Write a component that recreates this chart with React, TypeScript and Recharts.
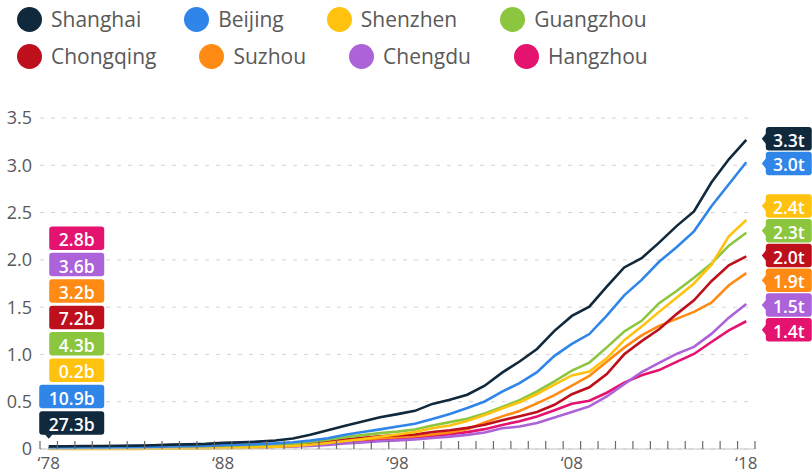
import React from 'react';
import { LineChart, Line, XAxis, YAxis, CartesianGrid, ReferenceDot } from 'recharts';

// GDP of China's largest city economies, trillion yuan, 1978–2018
const years = [
  1978, 1979, 1980, 1981, 1982, 1983, 1984, 1985, 1986, 1987,
  1988, 1989, 1990, 1991, 1992, 1993, 1994, 1995, 1996, 1997,
  1998, 1999, 2000, 2001, 2002, 2003, 2004, 2005, 2006, 2007,
  2008, 2009, 2010, 2011, 2012, 2013, 2014, 2015, 2016, 2017, 2018,
];

const shanghai = [
  0.0273, 0.0286, 0.0312, 0.0325, 0.0337, 0.0352, 0.0391, 0.0467, 0.0491, 0.0545,
  0.0648, 0.0697, 0.0782, 0.0894, 0.1114, 0.1512, 0.1972, 0.2463, 0.2902, 0.3361,
  0.3688, 0.4035, 0.4771, 0.521, 0.5741, 0.6694, 0.8073, 0.9248, 1.0572, 1.2494,
  1.4069, 1.5046, 1.7166, 1.9196, 2.0182, 2.1818, 2.3568, 2.5123, 2.8179, 3.0633, 3.268,
];
const beijing = [
  0.0109, 0.012, 0.0139, 0.0139, 0.0155, 0.0183, 0.0216, 0.0257, 0.0285, 0.0326,
  0.041, 0.0456, 0.0501, 0.0599, 0.0709, 0.0886, 0.1145, 0.1508, 0.1789, 0.2076,
  0.2376, 0.2678, 0.3162, 0.3708, 0.433, 0.5024, 0.606, 0.697, 0.8118, 0.9847,
  1.1115, 1.2153, 1.4114, 1.6252, 1.7879, 1.9801, 2.1331, 2.3015, 2.5669, 2.8, 3.032,
];
const shenzhen = [
  0.0002, 0.0003, 0.0003, 0.0005, 0.0008, 0.0013, 0.0023, 0.0039, 0.0042, 0.0056,
  0.0087, 0.0116, 0.0172, 0.0237, 0.0317, 0.0454, 0.0635, 0.0842, 0.1048, 0.1297,
  0.1535, 0.1804, 0.2187, 0.2483, 0.297, 0.3586, 0.4282, 0.4951, 0.5814, 0.6802,
  0.7787, 0.8201, 0.9582, 1.1506, 1.295, 1.45, 1.6002, 1.7503, 1.9493, 2.249, 2.4222,
];
const guangzhou = [
  0.0043, 0.0049, 0.0057, 0.0062, 0.0071, 0.008, 0.0103, 0.0124, 0.0139, 0.0173,
  0.0241, 0.0287, 0.032, 0.0387, 0.051, 0.0745, 0.0985, 0.1259, 0.1468, 0.1679,
  0.1841, 0.2056, 0.2492, 0.2841, 0.3203, 0.3758, 0.445, 0.5154, 0.6081, 0.7141,
  0.8287, 0.9138, 1.0748, 1.2423, 1.3551, 1.542, 1.6707, 1.81, 1.9611, 2.1503, 2.2859,
];
const chongqing = [
  0.0072, 0.0081, 0.0089, 0.0095, 0.0106, 0.0116, 0.0134, 0.0156, 0.0175, 0.0198,
  0.0241, 0.0273, 0.0328, 0.0372, 0.0459, 0.06, 0.08, 0.1003, 0.1179, 0.135,
  0.1441, 0.154, 0.1791, 0.1977, 0.2233, 0.2556, 0.3034, 0.3468, 0.3907, 0.4676,
  0.5794, 0.6528, 0.7926, 1.0011, 1.141, 1.2657, 1.4263, 1.5717, 1.7741, 1.9425, 2.0363,
];
const suzhou = [
  0.0032, 0.0038, 0.0043, 0.0047, 0.0052, 0.0058, 0.0072, 0.0094, 0.0111, 0.0137,
  0.0176, 0.0192, 0.0202, 0.0239, 0.0359, 0.0524, 0.07, 0.0903, 0.1002, 0.1133,
  0.125, 0.1358, 0.1541, 0.176, 0.208, 0.2801, 0.345, 0.4027, 0.482, 0.5701,
  0.6701, 0.774, 0.9229, 1.0717, 1.2012, 1.3016, 1.3761, 1.4504, 1.5475, 1.7319, 1.8597,
];
const chengdu = [
  0.0036, 0.0041, 0.0046, 0.0051, 0.0056, 0.0063, 0.0073, 0.0089, 0.0099, 0.0114,
  0.014, 0.0155, 0.0179, 0.0204, 0.0263, 0.0316, 0.0431, 0.0588, 0.07, 0.0813,
  0.0915, 0.1013, 0.1156, 0.1312, 0.1493, 0.175, 0.2186, 0.2371, 0.275, 0.3324,
  0.3901, 0.4503, 0.5551, 0.6855, 0.8139, 0.9109, 1.0057, 1.0801, 1.217, 1.3889, 1.5343,
];
const hangzhou = [
  0.0028, 0.0033, 0.0041, 0.0046, 0.0051, 0.0056, 0.0069, 0.0091, 0.0104, 0.0125,
  0.0157, 0.0179, 0.0189, 0.0232, 0.03, 0.0425, 0.0609, 0.0762, 0.0907, 0.1036,
  0.1134, 0.1226, 0.1383, 0.1575, 0.1782, 0.2099, 0.2543, 0.2943, 0.3443, 0.41,
  0.4781, 0.5098, 0.5949, 0.702, 0.7804, 0.8343, 0.9206, 1.005, 1.1314, 1.2536, 1.351,
];

const cities = ['Shanghai', 'Beijing', 'Shenzhen', 'Guangzhou', 'Chongqing', 'Suzhou', 'Chengdu', 'Hangzhou'];
const cityValues = [shanghai, beijing, shenzhen, guangzhou, chongqing, suzhou, chengdu, hangzhou];
const cityColors = ['#10293d', '#2f86e8', '#ffc20e', '#8cc63f', '#bd0f1c', '#ff8a14', '#ac62d9', '#e3136f'];

const yTicks = [0, 0.5, 1, 1.5, 2, 2.5, 3, 3.5];
const labelYears = [1978, 1988, 1998, 2008, 2018];

const FONT = '"Open Sans", "Noto Sans", sans-serif';
const TEXT_GREY = '#595959';

// one row per year: { year, Shanghai, Beijing, ... }
const data = years.map((year, i) => {
  const row: Record<string, number> = { year };
  cities.forEach((city, k) => {
    row[city] = cityValues[k][i];
  });
  return row;
});

// year-boundary tick marks plus the labelled years
const boundaryTicks = [...years.map((y) => y - 0.5), years[years.length - 1] + 0.5];
const xTicks = [...boundaryTicks, ...labelYears].sort((a, b) => a - b);

// Spread end-of-line tags so they keep a minimum distance (in axis units)
function spreadLabels(values: number[], gap: number): number[] {
  const order = values.map((_, i) => i).sort((a, b) => values[b] - values[a]);
  let clusters = order.map((i) => ({ idx: [i], center: values[i] }));
  let merged = true;
  while (merged) {
    merged = false;
    for (let k = 0; k < clusters.length - 1; k++) {
      const a = clusters[k];
      const b = clusters[k + 1];
      const aBottom = a.center - ((a.idx.length - 1) * gap) / 2;
      const bTop = b.center + ((b.idx.length - 1) * gap) / 2;
      if (aBottom - bTop < gap) {
        const idx = [...a.idx, ...b.idx];
        const center = idx.reduce((s, i) => s + values[i], 0) / idx.length;
        clusters.splice(k, 2, { idx, center });
        merged = true;
        break;
      }
    }
  }
  const out: number[] = new Array(values.length);
  clusters.forEach((c) =>
    c.idx.forEach((i, j) => {
      out[i] = c.center + ((c.idx.length - 1) / 2 - j) * gap;
    })
  );
  return out;
}

const endValues = cityValues.map((v) => v[v.length - 1]);
const startValues = cityValues.map((v) => v[0]);
const endTagPositions = spreadLabels(endValues, 0.262);

const XTick = (props: any) => {
  const { x, y, payload } = props;
  const v = payload.value as number;
  if (labelYears.includes(v)) {
    return (
      <text x={x} y={y + 19.5} textAnchor="middle" fill={TEXT_GREY} fontSize={17} fontFamily={FONT}>
        {'\u2018' + String(v).slice(2)}
      </text>
    );
  }
  return <line x1={x} x2={x} y1={y - 8} y2={y} stroke="#6a6a6a" strokeWidth={1.2} />;
};

// Tags stacked at the start of the lines, Shanghai at the bottom
const StartTag = ({ cx, cy, slot, color, text, pointer }: any) => {
  const h = 23.5;
  const w = 10 * text.length + 15;
  const right = cx + 55.5;
  const mid = cy - 26 - slot * 26.4;
  const top = mid - h / 2;
  return (
    <g>
      <rect x={right - w} y={top} width={w} height={h} rx={3} ry={3} fill={color} />
      {pointer && (
        <path d={`M ${cx - 4} ${top + h - 0.5} L ${cx} ${top + h + 4} L ${cx + 4} ${top + h - 0.5} Z`} fill={color} />
      )}
      <text
        x={right - w / 2}
        y={mid + 1}
        textAnchor="middle"
        dominantBaseline="central"
        fill="#ffffff"
        fontSize={17.5}
        fontWeight={600}
        fontFamily={FONT}
      >
        {text}
      </text>
    </g>
  );
};

// Tags at the end of the lines, pointing left
const EndTag = ({ cx, cy, color, text }: any) => {
  const h = 23.5;
  const left = cx + 19.5;
  const w = 46;
  return (
    <g>
      <rect x={left} y={cy - h / 2} width={w} height={h} rx={3} ry={3} fill={color} />
      <path d={`M ${left + 0.5} ${cy - 5.5} L ${left - 4} ${cy} L ${left + 0.5} ${cy + 5.5} Z`} fill={color} />
      <text
        x={left + w / 2}
        y={cy + 1}
        textAnchor="middle"
        dominantBaseline="central"
        fill="#ffffff"
        fontSize={17.5}
        fontWeight={600}
        fontFamily={FONT}
      >
        {text}
      </text>
    </g>
  );
};

const legendRows = [cities.slice(0, 4), cities.slice(4)];

const LegendBlock = () => (
  <div style={{ position: 'absolute', left: 17, top: 0, fontFamily: FONT }}>
    {legendRows.map((row, r) => (
      <div
        key={r}
        style={{
          position: 'absolute',
          top: r === 0 ? 6.5 : 44,
          left: 0,
          display: 'flex',
          alignItems: 'center',
          whiteSpace: 'nowrap',
          height: 25,
        }}
      >
        {row.map((city) => {
          const color = cityColors[cities.indexOf(city)];
          return (
            <div key={city} style={{ display: 'flex', alignItems: 'center', marginRight: 43 }}>
              <span
                style={{
                  display: 'inline-block',
                  width: 25,
                  height: 25,
                  borderRadius: '50%',
                  background: color,
                  marginRight: 9,
                }}
              />
              <span style={{ fontSize: 21, color: TEXT_GREY, lineHeight: '25px' }}>{city}</span>
            </div>
          );
        })}
      </div>
    ))}
  </div>
);

export default function App() {
  const drawOrder = cities.map((_, i) => i).reverse();
  return (
    <div
      style={{
        position: 'absolute',
        left: 0,
        top: 0,
        width: 812,
        height: 473,
        background: '#ffffff',
        overflow: 'hidden',
      }}
    >
      <LegendBlock />
      <LineChart width={812} height={473} data={data} margin={{ top: 118, right: 57, left: 0, bottom: 0 }}>
        <CartesianGrid horizontal vertical={false} stroke="#d4d4d4" strokeDasharray="4 7" />
        <XAxis
          dataKey="year"
          type="number"
          domain={[1977.5, 2018.5]}
          ticks={xTicks}
          interval={0}
          tickLine={false}
          tickSize={0}
          tickMargin={0}
          height={24}
          axisLine={{ stroke: '#c4c4c4', strokeWidth: 1 }}
          tick={<XTick />}
        />
        <YAxis
          type="number"
          domain={[0, 3.5]}
          ticks={yTicks}
          width={40}
          axisLine={false}
          tickLine={false}
          tick={{ fill: TEXT_GREY, fontSize: 18, fontFamily: FONT }}
          tickFormatter={(v: number) => (v === 0 ? '0' : v.toFixed(1))}
        />
        {drawOrder.map((k) => (
          <Line
            key={cities[k]}
            type="linear"
            dataKey={cities[k]}
            stroke={cityColors[k]}
            strokeWidth={2.6}
            dot={false}
            activeDot={false}
            isAnimationActive={false}
          />
        ))}
        {cities.map((city, k) => (
          <ReferenceDot
            key={`start-${city}`}
            x={years[0]}
            y={0}
            ifOverflow="visible"
            shape={(p: any) => (
              <StartTag
                cx={p.cx}
                cy={p.cy}
                slot={k}
                color={cityColors[k]}
                pointer={k === 0}
                text={`${(startValues[k] * 1000).toFixed(1)}b`}
              />
            )}
          />
        ))}
        {cities.map((city, k) => (
          <ReferenceDot
            key={`end-${city}`}
            x={years[years.length - 1]}
            y={endTagPositions[k]}
            ifOverflow="visible"
            shape={(p: any) => (
              <EndTag cx={p.cx} cy={p.cy} color={cityColors[k]} text={`${endValues[k].toFixed(1)}t`} />
            )}
          />
        ))}
      </LineChart>
    </div>
  );
}
